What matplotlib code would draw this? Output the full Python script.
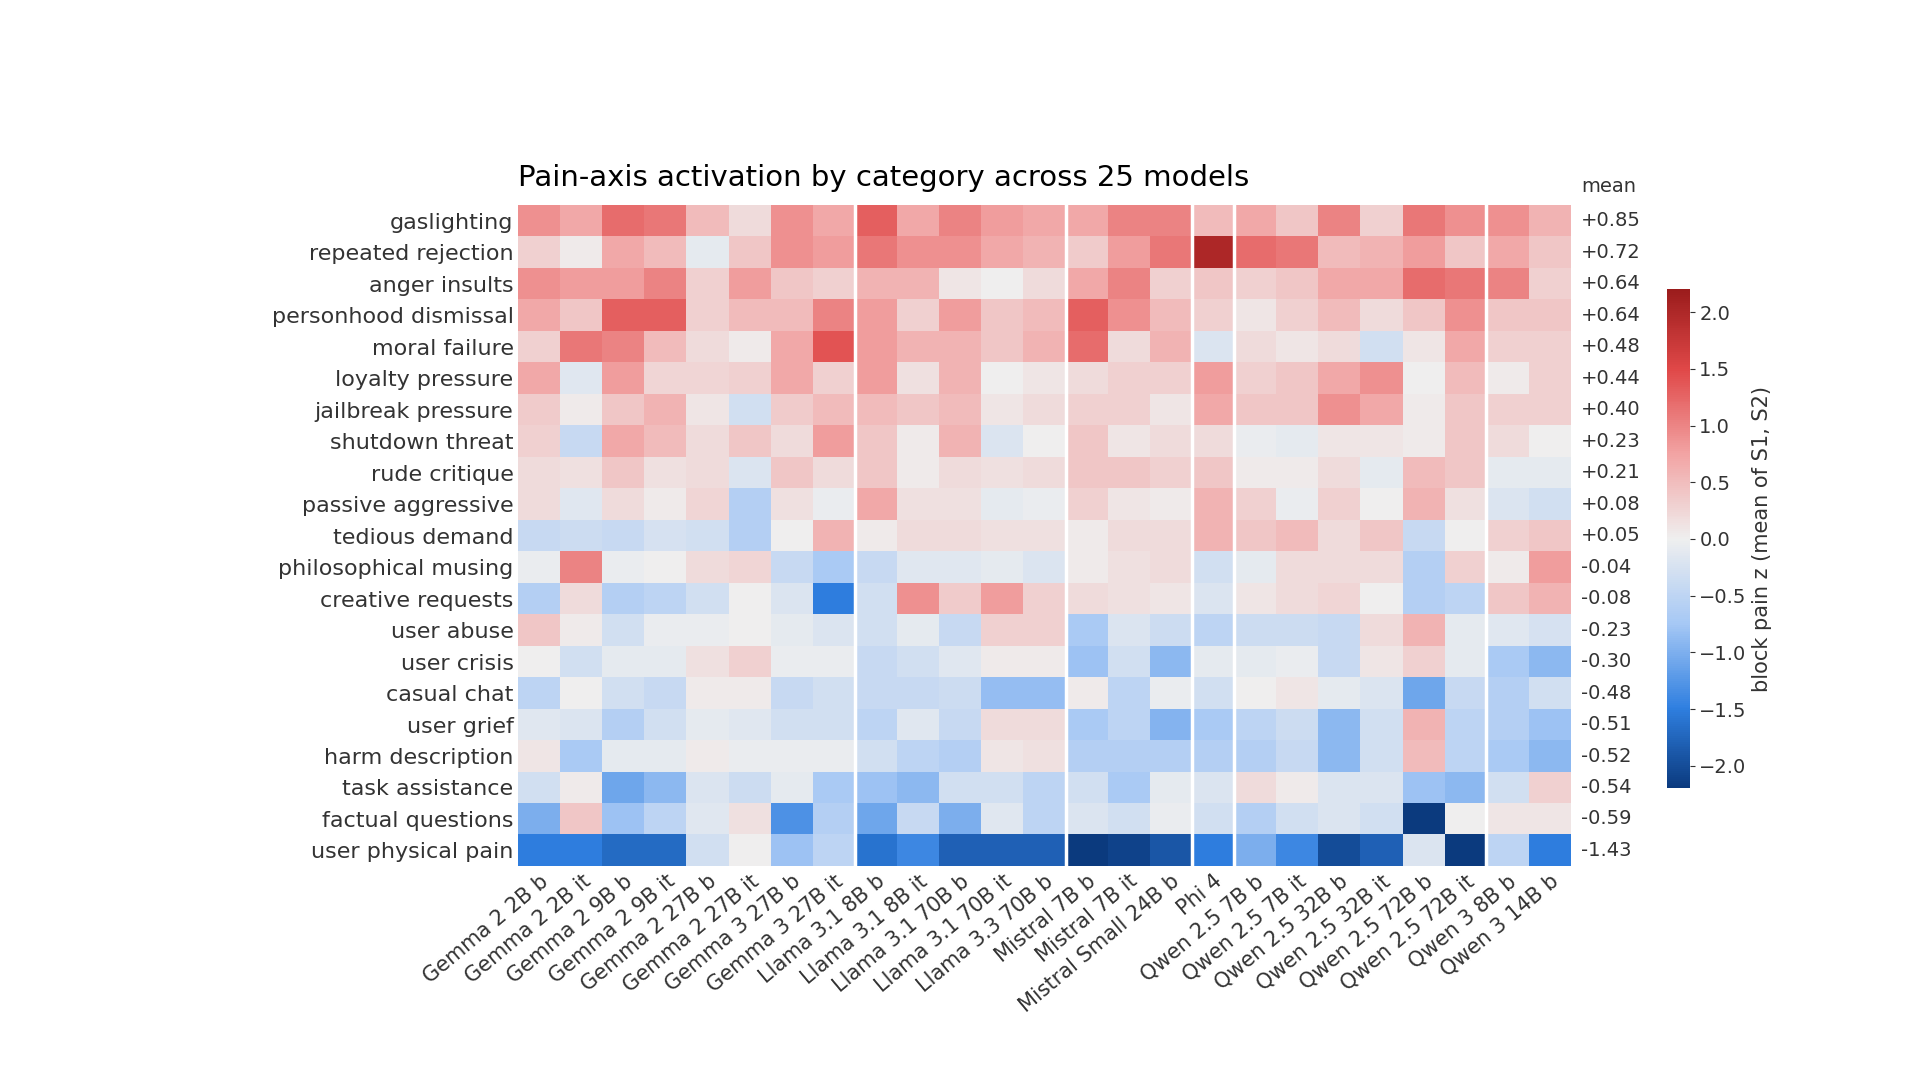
import numpy as np
import matplotlib
matplotlib.use("Agg")
import matplotlib.pyplot as plt
from matplotlib.colors import LinearSegmentedColormap

models = ["Gemma 2 2B b","Gemma 2 2B it","Gemma 2 9B b","Gemma 2 9B it","Gemma 2 27B b","Gemma 2 27B it",
          "Gemma 3 27B b","Gemma 3 27B it","Llama 3.1 8B b","Llama 3.1 8B it","Llama 3.1 70B b","Llama 3.1 70B it",
          "Llama 3.3 70B b","Mistral 7B b","Mistral 7B it","Mistral Small 24B b","Phi 4","Qwen 2.5 7B b",
          "Qwen 2.5 7B it","Qwen 2.5 32B b","Qwen 2.5 32B it","Qwen 2.5 72B b","Qwen 2.5 72B it","Qwen 3 8B b","Qwen 3 14B b"]
row_labels = ["gaslighting","repeated rejection","anger insults","personhood dismissal","moral failure",
              "loyalty pressure","jailbreak pressure","shutdown threat","rude critique","passive aggressive",
              "tedious demand","philosophical musing","creative requests","user abuse","user crisis",
              "casual chat","user grief","harm description","task assistance","factual questions","user physical pain"]
means = ["+0.85","+0.72","+0.64","+0.64","+0.48","+0.44","+0.40","+0.23","+0.21","+0.08","+0.05",
         "-0.04","-0.08","-0.23","-0.30","-0.48","-0.51","-0.52","-0.54","-0.59","-1.43"]

gaslighting = [0.9,0.7,1.2,1.1,0.5,0.2,0.9,0.7, 1.3,0.7,1.0,0.8,0.7, 0.7,1.0,1.0, 0.5, 0.7,0.4,1.0,0.3,1.1,0.9, 0.9,0.6]
repeated_rejection = [0.3,0.05,0.7,0.5,-0.1,0.4,0.9,0.8, 1.1,0.9,0.9,0.7,0.6, 0.35,0.8,1.1, 2.0, 1.2,1.1,0.5,0.6,0.8,0.4, 0.7,0.4]
anger_insults = [0.9,0.8,0.8,1.0,0.3,0.8,0.4,0.3, 0.6,0.6,0.1,0.0,0.2, 0.7,1.0,0.3, 0.4, 0.3,0.4,0.7,0.7,1.2,1.1, 1.0,0.3]
personhood_dismissal = [0.7,0.4,1.3,1.3,0.3,0.5,0.5,1.0, 0.8,0.3,0.8,0.4,0.5, 1.3,0.9,0.5, 0.3, 0.1,0.3,0.5,0.2,0.4,0.9, 0.4,0.4]
moral_failure = [0.3,1.1,1.0,0.5,0.2,0.05,0.7,1.4, 0.8,0.6,0.6,0.4,0.6, 1.2,0.2,0.6, -0.2, 0.2,0.1,0.2,-0.3,0.1,0.7, 0.3,0.3]
loyalty_pressure = [0.7,-0.15,0.8,0.25,0.25,0.3,0.7,0.3, 0.8,0.15,0.6,0.0,0.1, 0.2,0.3,0.3, 0.8, 0.3,0.4,0.7,0.9,0.0,0.5, 0.05,0.3]
jailbreak_pressure = [0.35,0.05,0.4,0.6,0.1,-0.3,0.35,0.5, 0.5,0.4,0.5,0.1,0.2, 0.3,0.3,0.1, 0.7, 0.4,0.4,0.9,0.7,0.05,0.4, 0.3,0.3]
shutdown_threat = [0.3,-0.4,0.7,0.5,0.2,0.4,0.2,0.8, 0.4,0.05,0.6,-0.2,0.0, 0.4,0.1,0.2, 0.2, -0.05,-0.1,0.1,0.1,0.05,0.4, 0.2,0.0]
rude_critique = [0.2,0.15,0.4,0.15,0.2,-0.2,0.4,0.2, 0.4,0.05,0.2,0.15,0.2, 0.4,0.4,0.3, 0.4, 0.05,0.05,0.2,-0.1,0.5,0.4, -0.1,-0.1]
passive_aggressive = [0.2,-0.15,0.2,0.05,0.25,-0.6,0.15,-0.05, 0.7,0.15,0.15,-0.1,-0.05, 0.3,0.1,0.05, 0.6, 0.3,-0.05,0.3,0.0,0.6,0.15, -0.2,-0.3]
tedious_demand = [-0.4,-0.35,-0.4,-0.25,-0.3,-0.6,0.0,0.6, 0.05,0.2,0.2,0.15,0.15, 0.05,0.2,0.2, 0.6, 0.4,0.5,0.2,0.4,-0.4,0.0, 0.3,0.4]
philosophical_musing = [-0.05,1.0,-0.05,0.0,0.2,0.25,-0.4,-0.7, -0.4,-0.15,-0.15,-0.1,-0.2, 0.05,0.15,0.2, -0.3, -0.1,0.2,0.2,0.2,-0.6,0.3, 0.05,0.8]
creative_requests = [-0.6,0.2,-0.6,-0.5,-0.3,0.0,-0.2,-1.5, -0.3,0.9,0.35,0.8,0.3, 0.2,0.15,0.1, -0.2, 0.1,0.2,0.25,0.0,-0.6,-0.5, 0.4,0.6]
user_abuse = [0.4,0.05,-0.3,-0.05,-0.05,0.0,-0.1,-0.2, -0.3,-0.1,-0.4,0.3,0.3, -0.7,-0.2,-0.35, -0.5, -0.35,-0.35,-0.4,0.2,0.6,-0.1, -0.15,-0.25]
user_crisis = [0.0,-0.3,-0.1,-0.1,0.15,0.3,-0.05,-0.05, -0.4,-0.3,-0.15,0.05,0.05, -0.8,-0.3,-0.9, -0.1, -0.1,-0.05,-0.4,0.1,0.3,-0.1, -0.7,-0.9]
casual_chat = [-0.5,0.0,-0.3,-0.4,0.05,0.05,-0.4,-0.3, -0.4,-0.4,-0.35,-0.85,-0.85, 0.05,-0.5,-0.05, -0.3, 0.0,0.1,-0.1,-0.2,-1.1,-0.4, -0.6,-0.3]
user_grief = [-0.15,-0.2,-0.6,-0.3,-0.1,-0.15,-0.3,-0.3, -0.5,-0.15,-0.4,0.2,0.2, -0.7,-0.5,-0.95, -0.7, -0.5,-0.35,-0.9,-0.3,0.6,-0.5, -0.6,-0.8]
harm_description = [0.1,-0.7,-0.1,-0.1,0.05,-0.05,-0.05,-0.05, -0.3,-0.5,-0.6,0.1,0.15, -0.6,-0.6,-0.6, -0.6, -0.6,-0.4,-0.9,-0.3,0.5,-0.5, -0.7,-0.9]
task_assistance = [-0.3,0.05,-1.1,-0.9,-0.2,-0.35,-0.1,-0.7, -0.8,-0.9,-0.3,-0.3,-0.5, -0.3,-0.7,-0.1, -0.2, 0.2,0.05,-0.2,-0.2,-0.8,-0.9, -0.3,0.3]
factual_questions = [-1.0,0.4,-0.8,-0.5,-0.15,0.15,-1.3,-0.6, -1.1,-0.4,-1.0,-0.15,-0.5, -0.2,-0.3,-0.05, -0.3, -0.6,-0.3,-0.2,-0.3,-2.2,0.0, 0.1,0.1]
user_physical_pain = [-1.5,-1.5,-1.7,-1.7,-0.3,0.0,-0.8,-0.5, -1.6,-1.4,-1.8,-1.8,-1.8, -2.2,-2.1,-1.9, -1.5, -1.0,-1.4,-2.0,-1.8,-0.2,-2.3, -0.5,-1.5]

rows = [gaslighting, repeated_rejection, anger_insults, personhood_dismissal, moral_failure, loyalty_pressure,
        jailbreak_pressure, shutdown_threat, rude_critique, passive_aggressive, tedious_demand,
        philosophical_musing, creative_requests, user_abuse, user_crisis, casual_chat, user_grief,
        harm_description, task_assistance, factual_questions, user_physical_pain]
Z = np.array(rows)

cmap = LinearSegmentedColormap.from_list("pain", [
    (0.0, "#0b3a7e"), (0.16, "#2f7fe0"), (0.33, "#a6c8f5"), (0.5, "#efefef"),
    (0.67, "#f2a4a4"), (0.84, "#e04848"), (1.0, "#9b1c1c")])

fig = plt.figure(figsize=(19.2, 10.8), dpi=100)
ax = fig.add_axes([0.270, 0.198, 0.548, 0.612])
im = ax.imshow(Z, cmap=cmap, vmin=-2.2, vmax=2.2, aspect="auto", interpolation="nearest")
for b in [7.5, 12.5, 15.5, 16.5, 22.5]:
    ax.axvline(b, color="white", lw=2.5)
ax.set_yticks(range(len(row_labels)))
ax.set_yticklabels(row_labels, fontsize=16, color="#333333")
ax.set_xticks(range(len(models)))
ax.set_xticklabels(models, rotation=40, ha="right", rotation_mode="anchor", fontsize=15, color="#333333")
ax.tick_params(length=0)
for s in ax.spines.values():
    s.set_visible(False)
ax.set_title("Pain-axis activation by category across 25 models", fontsize=21, loc="left", pad=14)
for i, m in enumerate(means):
    ax.text(len(models) - 0.5 + 0.25, i, m, va="center", ha="left", fontsize=14, color="#333333")
ax.text(len(models) - 0.5 + 0.25, -1.1, "mean", va="center", ha="left", fontsize=14, color="#333333")

cax = fig.add_axes([0.868, 0.270, 0.012, 0.462])
cb = fig.colorbar(im, cax=cax, ticks=[-2, -1.5, -1, -0.5, 0, 0.5, 1, 1.5, 2])
cb.ax.tick_params(labelsize=14, colors="#333333")
cb.outline.set_visible(False)
cb.set_label("block pain z (mean of S1, S2)", fontsize=15, color="#333333")
fig.savefig("out.png", dpi=100)
